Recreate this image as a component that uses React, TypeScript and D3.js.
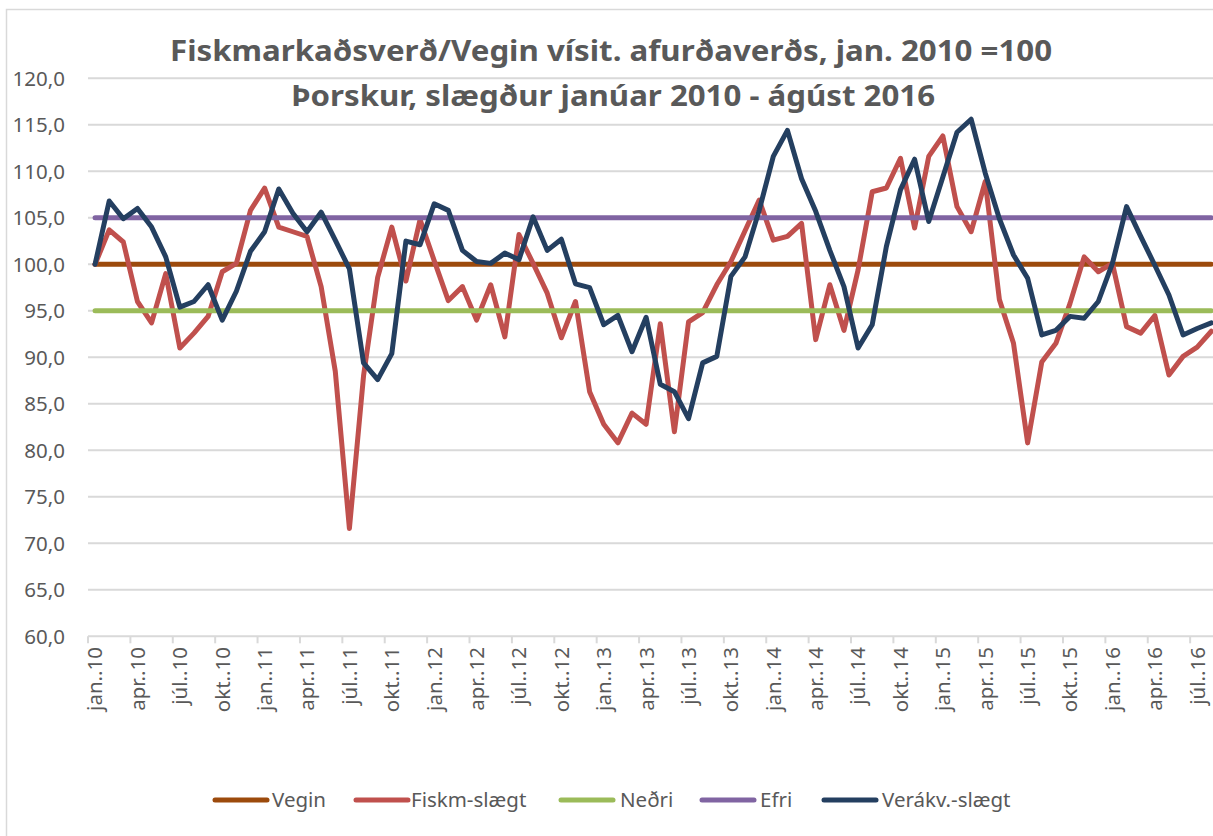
import React from "react";
import * as d3 from "d3";

const titleLines = [
  "Fiskmarkaðsverð/Vegin vísit. afurðaverðs, jan. 2010 =100",
  "Þorskur, slægður janúar 2010 - ágúst 2016",
];

const tickLabels = [
  "jan..10", "apr..10", "júl..10", "okt..10",
  "jan..11", "apr..11", "júl..11", "okt..11",
  "jan..12", "apr..12", "júl..12", "okt..12",
  "jan..13", "apr..13", "júl..13", "okt..13",
  "jan..14", "apr..14", "júl..14", "okt..14",
  "jan..15", "apr..15", "júl..15", "okt..15",
  "jan..16", "apr..16", "júl..16",
];

const fiskm = [
  100.0, 103.7, 102.4, 96.0, 93.7, 99.0, 91.0, 92.6, 94.4, 99.2, 100.1, 105.8,
  108.2, 104.0, 103.5, 103.0, 97.6, 88.5, 71.6, 88.0, 98.6, 104.0, 98.2, 104.8,
  100.4, 96.1, 97.6, 94.0, 97.8, 92.2, 103.2, 100.1, 96.9, 92.1, 96.0, 86.3,
  82.8, 80.8, 84.0, 82.8, 93.6, 82.0, 93.8, 94.8, 97.8, 100.3, 103.6, 106.9,
  102.6, 103.0, 104.4, 91.9, 97.8, 92.9, 99.4, 107.8, 108.2, 111.4, 103.9, 111.6,
  113.8, 106.2, 103.5, 108.9, 96.2, 91.5, 80.8, 89.5, 91.5, 95.8, 100.8, 99.2,
  100.1, 93.3, 92.6, 94.5, 88.1, 90.1, 91.1, 92.8,
];

const verakv = [
  100.0, 106.8, 104.9, 106.0, 104.0, 100.8, 95.4, 96.0, 97.8, 94.0, 97.1, 101.4,
  103.5, 108.1, 105.5, 103.5, 105.6, 102.6, 99.5, 89.4, 87.6, 90.4, 102.5, 102.1,
  106.5, 105.8, 101.5, 100.3, 100.1, 101.2, 100.5, 105.1, 101.5, 102.7, 97.9, 97.5,
  93.5, 94.5, 90.6, 94.3, 87.1, 86.3, 83.4, 89.4, 90.1, 98.7, 100.8, 105.8,
  111.6, 114.4, 109.2, 105.7, 101.5, 97.6, 91.0, 93.5, 101.9, 108.0, 111.3, 104.6,
  109.4, 114.2, 115.6, 109.8, 104.9, 101.0, 98.5, 92.4, 92.9, 94.4, 94.2, 96.0,
  100.1, 106.2, 103.0, 99.9, 96.7, 92.4, 93.1, 93.7,
];

const veginValue = 100;
const nedriValue = 95;
const efriValue = 105;

const yTicks = [60, 65, 70, 75, 80, 85, 90, 95, 100, 105, 110, 115, 120];

const legendItems = [
  { name: "Vegin", color: "#9C4A0C" },
  { name: "Fiskm-slægt", color: "#C0504D" },
  { name: "Neðri", color: "#9BBB59" },
  { name: "Efri", color: "#8064A2" },
  { name: "Verákv.-slægt", color: "#243F60" },
];

const FONT = "'Noto Sans', 'Open Sans', sans-serif";
const TEXT = "#595959";
const GRID = "#d9d9d9";

export default function App() {
  const W = 1213;
  const H = 836;
  const left = 88;
  const band = 14.13;
  const n = fiskm.length;
  const idx = d3.range(n);
  const x = d3
    .scaleBand<number>()
    .domain(idx)
    .range([left, left + band * n])
    .paddingInner(0)
    .paddingOuter(0);
  const cx = (i: number) => (x(i) as number) + x.bandwidth() / 2;
  const y = d3.scaleLinear().domain([60, 120]).range([636.3, 78.3]);

  const line = d3
    .line<number>()
    .x((_, i) => cx(i))
    .y((d) => y(d));

  const constLine = (v: number) => `M${cx(0)},${y(v)}L${cx(n - 1)},${y(v)}`;

  const xEnd = left + band * n;
  const tickIdx = d3.range(0, n + 1, 3);

  const series = [
    { d: constLine(veginValue), color: legendItems[0].color },
    { d: line(fiskm) as string, color: legendItems[1].color },
    { d: constLine(nedriValue), color: legendItems[2].color },
    { d: constLine(efriValue), color: legendItems[3].color },
    { d: line(verakv) as string, color: legendItems[4].color },
  ];

  const legendPos = [
    { lx: 215, tx: 272 },
    { lx: 356, tx: 411 },
    { lx: 561, tx: 620 },
    { lx: 702, tx: 760 },
    { lx: 824, tx: 882 },
  ];
  const legendY = 800;

  return (
    <svg
      width={W}
      height={H}
      style={{ position: "absolute", left: 0, top: 0, background: "#fff" }}
      fontFamily={FONT}
    >
      <rect x={0} y={0} width={W} height={H} fill="#fff" />
      <rect x={6.5} y={9.5} width={1260} height={900} fill="none" stroke={GRID} strokeWidth={1.5} />

      {/* title */}
      <text
        x={611}
        y={61}
        textAnchor="middle"
        fontSize={28}
        fontWeight="bold"
        fill={TEXT}
        textLength={882}
        lengthAdjust="spacingAndGlyphs"
      >
        {titleLines[0]}
      </text>
      <text
        x={613}
        y={106}
        textAnchor="middle"
        fontSize={28}
        fontWeight="bold"
        fill={TEXT}
        textLength={644}
        lengthAdjust="spacingAndGlyphs"
      >
        {titleLines[1]}
      </text>

      {/* gridlines */}
      {yTicks.map((t) => (
        <g key={t}>
          {t !== 60 && (
            <line x1={left} x2={xEnd} y1={y(t)} y2={y(t)} stroke={GRID} strokeWidth={2} />
          )}
          <text
            x={65}
            y={y(t)}
            dy="0.36em"
            textAnchor="end"
            fontSize={20.5}
            fill={TEXT}
          >
            {d3.format(".1f")(t).replace(".", ",")}
          </text>
        </g>
      ))}

      {/* x axis */}
      <line x1={left} x2={xEnd} y1={y(60)} y2={y(60)} stroke={GRID} strokeWidth={2} />
      {tickIdx.map((i) => {
        const tx = i < n ? (x(i) as number) : xEnd;
        return <line key={i} x1={tx} x2={tx} y1={y(60)} y2={y(60) + 7} stroke={GRID} strokeWidth={2} />;
      })}
      {tickLabels.map((lab, k) => {
        const i = k * 3;
        const px = cx(i);
        const py = 647;
        return (
          <text
            key={lab}
            transform={`translate(${px},${py}) rotate(-90)`}
            textAnchor="end"
            dy="0.36em"
            fontSize={20.5}
            fill={TEXT}
          >
            {lab}
          </text>
        );
      })}

      {/* series */}
      {series.map((s, k) => (
        <path
          key={k}
          d={s.d}
          fill="none"
          stroke={s.color}
          strokeWidth={5}
          strokeLinejoin="round"
          strokeLinecap="round"
        />
      ))}

      {/* legend */}
      {legendItems.map((it, k) => (
        <g key={it.name}>
          <line
            x1={legendPos[k].lx}
            x2={legendPos[k].lx + 52}
            y1={legendY}
            y2={legendY}
            stroke={it.color}
            strokeWidth={5}
            strokeLinecap="round"
          />
          <text x={legendPos[k].tx} y={legendY} dy="0.36em" fontSize={20.5} fill={TEXT}>
            {it.name}
          </text>
        </g>
      ))}
    </svg>
  );
}
